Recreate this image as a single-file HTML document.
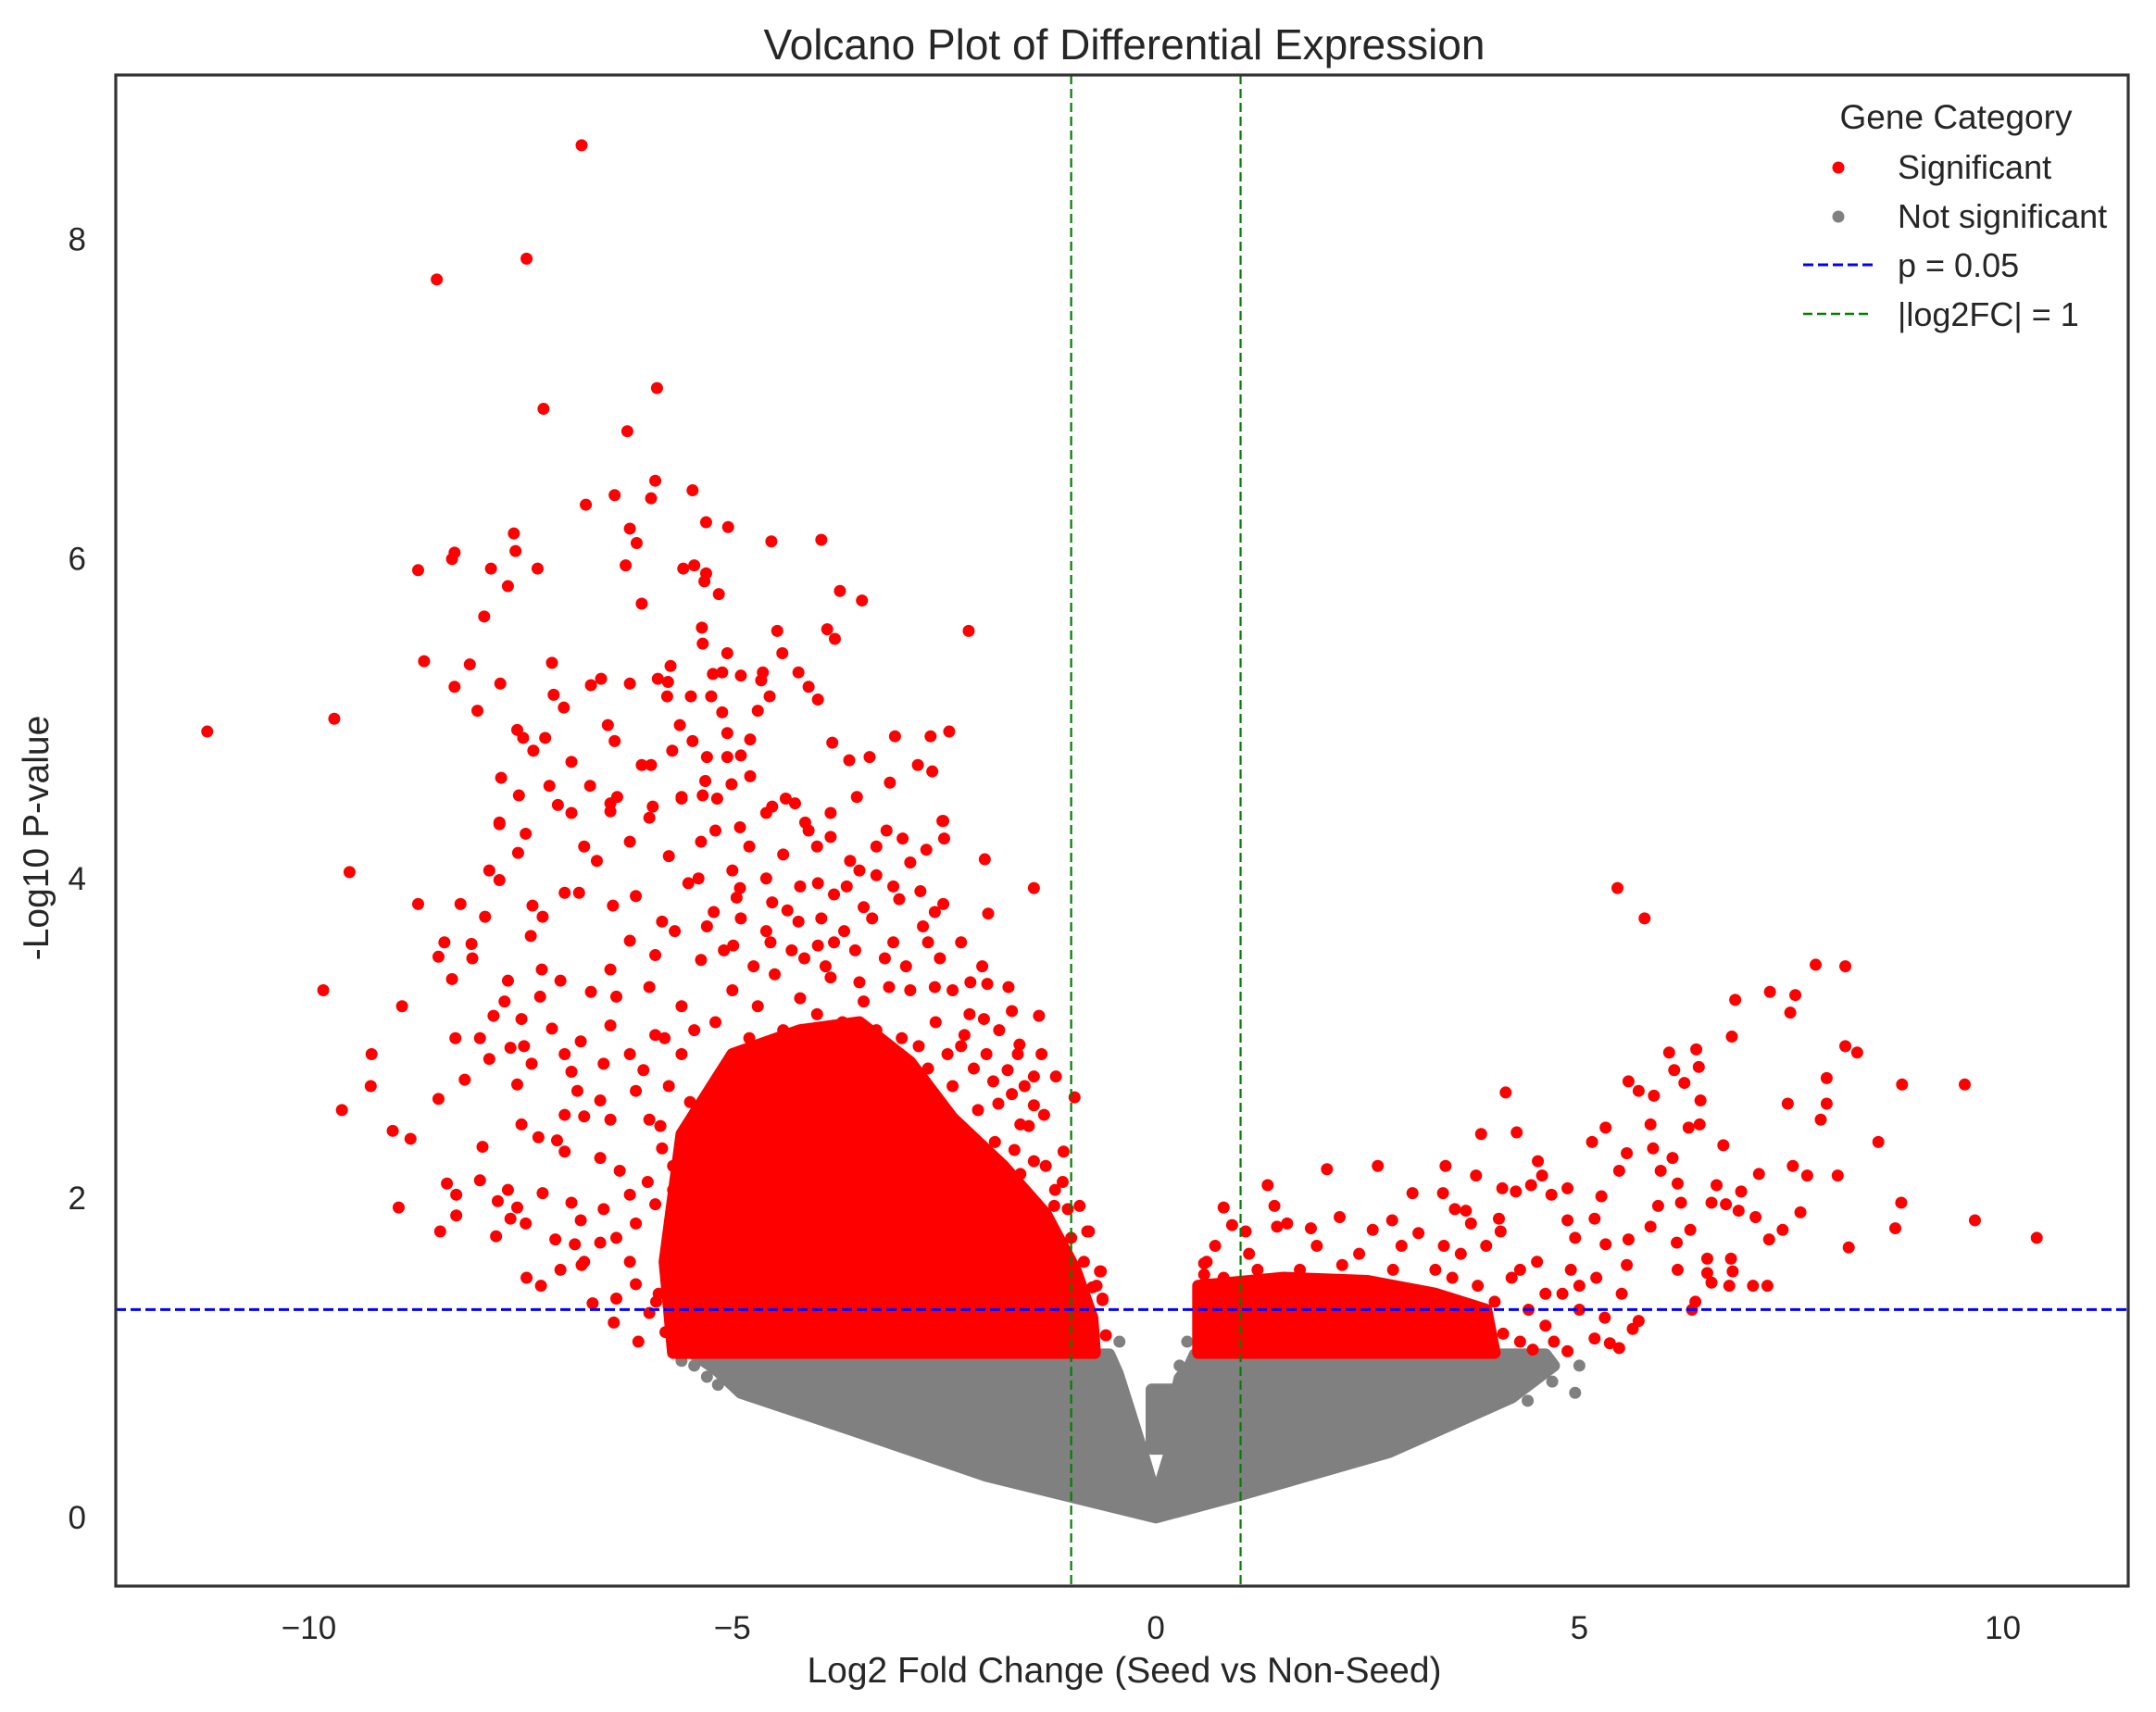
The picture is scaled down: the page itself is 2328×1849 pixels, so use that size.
<!DOCTYPE html>
<html><head><meta charset="utf-8"><title>Volcano Plot</title>
<style>
html,body{margin:0;padding:0;background:#fff;}
svg text{font-family:"Liberation Sans",Arial,sans-serif;fill:#262626;}
</style></head>
<body>
<svg id="chart" width="2328" height="1844" viewBox="0 0 2328 1844" xmlns="http://www.w3.org/2000/svg">
<rect width="2328" height="1844" fill="#fff"/>
<g id="plot"></g>
</svg>
<script>
// ---- data ----
const xTicks = [-10, -5, 0, 5, 10];
const yTicks = [0, 2, 4, 6, 8];
const xDomain = [-12.28, 11.48];
const yDomain = [-0.43, 9.03];
const pThreshold = 1.301;
const fcThresholds = [-1, 1];
// dense non-significant region outline (data units)
const nsRegionX = [-5.45,-0.55,-0.45,-0.33,-0.16,0,0.15,0.2,-0.05,-0.05,0.25,0.28,0.4,0.46,4.6,4.7,4.2,2.76,0.99,0.0,-1.0,-2.0,-3.6,-4.9,-5.2];
const nsRegionY = [1.02,1.02,0.9,0.7,0.41,0.12,0.38,0.43,0.43,0.8,0.8,0.87,0.95,1.02,1.02,0.95,0.75,0.41,0.14,0.0,0.13,0.26,0.55,0.78,0.93];
// dense significant regions
const sigLeftX = [-5.7,-5.8,-5.6,-5.0,-4.2,-3.5,-2.9,-2.4,-1.8,-1.3,-0.95,-0.75,-0.72];
const sigLeftY = [1.03,1.6,2.4,2.9,3.05,3.1,2.85,2.5,2.2,1.9,1.55,1.25,1.03];
const sigRightX = [0.5,0.5,1.5,2.5,3.3,3.9,4.0];
const sigRightY = [1.03,1.45,1.5,1.48,1.4,1.3,1.03];
const nsPoints = [[-0.43,1.1],[0.37,1.1],[0.28,0.95],[4.68,0.85],[4.39,0.73],[-5.17,0.83],[5.0,0.95],[4.95,0.78],[-5.45,0.95],[-5.6,0.98],[-5.3,0.88]];
const sigPoints = [
[-6.78,8.59],[-7.43,7.88],[-8.49,7.75],[-5.89,7.07],[-7.23,6.94],[-6.24,6.80],[-5.91,6.49],[-6.39,6.40],[-5.96,6.38],[-5.47,6.43],[-6.73,6.34],[-5.31,6.23],[-5.05,6.2],[-4.54,6.11],[-3.95,6.12],[-7.58,6.16],[-7.56,6.05],[-8.28,6.04],[-8.31,6.0],[-8.71,5.93],[-7.85,5.94],[-7.65,5.83],[-7.3,5.94],[-6.21,6.19],[-6.13,6.1],[-6.26,5.96],[-5.58,5.94],[-5.45,5.96],[-5.31,5.91],[-5.33,5.86],[-5.16,5.78],[-6.07,5.72],[-3.73,5.8],[-3.47,5.74],[-2.21,5.55],[-7.93,5.64],[-5.36,5.57],[-5.35,5.47],[-5.06,5.41],[-4.47,5.55],[-3.88,5.56],[-3.79,5.5],[-4.41,5.41],
[-11.2,4.92],[-9.7,5.0],[-8.64,5.36],[-8.1,5.34],[-7.13,5.35],[-8.28,5.2],[-7.74,5.22],[-8.01,5.05],[-7.11,5.15],[-6.99,5.07],[-6.67,5.21],[-6.55,5.25],[-6.21,5.22],[-5.88,5.25],[-5.76,5.23],[-5.73,5.33],[-5.77,5.14],[-5.49,5.14],[-5.25,5.14],[-5.23,5.28],[-5.12,5.29],[-4.9,5.27],[-4.64,5.29],[-4.66,5.24],[-4.56,5.14],[-4.22,5.29],[-4.1,5.2],[-3.99,5.12],[-4.7,5.05],[-5.12,5.04],[-7.54,4.93],[-7.47,4.88],[-7.21,4.88],[-7.35,4.8],[-6.47,4.96],[-6.39,4.86],[-6.9,4.73],[-5.62,4.96],[-5.47,4.86],[-5.06,4.91],[-4.79,4.87],[-3.82,4.85],[-3.08,4.89],[-2.66,4.89],[-2.44,4.92],[-5.71,4.8],[-5.3,4.76],[-5.06,4.76],[-4.9,4.77],[-6.07,4.71],[-5.96,4.71],[-3.62,4.74],[-3.38,4.76],[-2.81,4.71],[-2.64,4.67],[-3.14,4.6],[-7.73,4.63],[-7.16,4.58],[-6.68,4.58],[-7.52,4.52],[-5.32,4.61],[-5.01,4.59],[-4.79,4.64],[-6.36,4.51],[-5.6,4.51],[-5.35,4.52],[-7.06,4.46],[-6.9,4.41],[-6.44,4.42],[-5.94,4.45],[-5.18,4.5],[-4.26,4.47],[-4.53,4.45],[-3.84,4.41],[-3.53,4.51],[-2.52,4.36],[-7.75,4.35],
[-9.52,4.04],[-9.83,3.3],[-9.61,2.55],[-9.27,2.7],[-9.26,2.9],[-8.9,3.2],[-9.01,2.42],[-8.8,2.37],[-8.94,1.94],[-8.71,3.84],[-8.21,3.84],[-7.92,3.76],[-8.47,3.51],[-8.4,3.6],[-8.08,3.59],[-8.07,3.5],[-8.31,3.37],[-7.65,3.36],[-7.87,4.05],[-7.75,3.99],[-7.53,4.16],[-7.44,4.28],[-7.75,4.34],[-8.27,3.0],[-7.98,3.0],[-7.87,2.87],[-8.47,2.62],[-8.16,2.74],[-7.69,3.23],[-7.49,3.12],[-7.82,3.14],[-7.62,2.94],[-7.46,2.95],[-7.54,2.71],[-7.37,2.84],[-7.49,2.46],[-7.95,2.32],[-7.98,2.11],[-8.37,2.09],[-8.26,2.02],[-8.45,1.79],[-8.26,1.89],[-7.79,1.76],[-7.77,1.98],[-7.65,2.05],[-7.62,1.87],[-7.44,1.84],[-7.54,1.94],[-7.43,1.5],[-7.26,1.45],[-7.03,1.55],[-6.78,1.58],[-6.65,1.34],[-6.4,1.22],[-6.11,1.1],[-7.29,2.38],[-7.07,2.36],[-6.98,2.29],[-7.24,2.03],[-6.9,1.97],[-7.09,1.74],[-6.86,1.71],[-6.79,1.86],[-7.36,3.83],[-7.24,3.76],[-6.98,3.91],[-6.81,3.91],[-7.38,3.64],[-7.25,3.43],[-7.03,3.36],[-7.27,3.26],[-7.13,3.06],[-6.98,2.9],[-6.79,2.98],[-6.9,2.79],[-6.83,2.67],[-6.98,2.52],[-6.75,2.51],[-6.56,2.61],[-6.44,2.49],[-6.56,2.25],[-6.33,2.17],[-6.21,2.02],[-6.52,1.93],[-6.56,1.72],[-6.37,1.75],[-6.75,1.6],[-6.21,1.6],[-6.37,1.37],[-5.98,1.28],[-5.79,1.16],[-5.87,1.4],[-6.14,1.46],
[-2.02,4.12],[-1.44,3.94],[-1.98,3.78],[-2.51,4.36],[-2.5,4.25],[-2.71,4.18],[-3.18,4.3],[-2.99,4.25],[-2.78,3.92],[-2.51,3.84],[-2.61,3.79],[-3.03,3.87],[-2.69,3.6],[-2.3,3.6],[-2.19,3.35],[-1.99,3.34],[-1.74,3.32],[-1.7,3.17],[-1.38,3.14],[-2.03,3.12],[-2.26,3.02],[-1.61,2.96],[-1.63,2.9],[-1.44,2.76],[-1.18,2.76],[-0.96,2.63],[-1.86,2.59],[-1.44,2.58],[-1.32,2.52],[-1.6,2.46],[-1.67,2.3],[-1.09,2.29],[-1.44,2.23],[-1.19,2.05],[-0.81,1.79],[-0.65,1.54],[-0.63,1.37],[-1.04,1.93],[-1.92,2.73],[-2.15,2.81],[-2.46,2.9],[-2.69,2.81],[-2.84,2.73],[-2.61,3.32],[-3.15,3.32],[-3.45,3.23],[-3.84,3.38],[-3.68,3.67],[-3.61,4.11],[-3.84,4.26],[-4.14,4.35],[-4.37,4.5],[-4.6,4.41],[-4.91,4.32],[-5.37,4.23],[-5.6,4.5],[-5.75,4.14],[-5.98,4.38],[-6.21,4.23],[-6.44,4.47],[-6.75,4.2],[-6.6,4.11],[-6.41,3.83],[-6.14,3.89],[-5.83,3.73],[-5.52,3.97],[-5.22,3.79],[-4.91,3.94],[-4.53,3.85],[-4.22,3.73],[-3.99,3.97],[-3.45,3.82],[-3.3,4.02],[-6.21,3.61],[-5.91,3.52],[-5.68,3.67],[-5.37,3.49],[-4.99,3.58],[-4.6,3.67],[-4.3,3.55],[-3.99,3.58],[-6.44,3.43],[-6.67,3.29],[-6.37,3.26],[-5.98,3.32],[-6.44,3.08],[-6.21,2.9],[-6.52,2.84],[-6.14,2.67],[-5.91,3.02],[-5.6,3.2],[-5.98,2.49],[-5.83,2.31],[-5.91,1.96],[-5.68,1.75],[-6.14,1.84],
[-5.6,2.9],[-5.5,2.6],[-5.7,2.2],[-5.6,1.9],[-5.55,1.5],[-5.65,1.2],[-5.45,3.05],[-5.2,3.1],[-5.0,3.3],[-4.8,3.0],[-4.7,3.2],[-4.5,3.4],[-4.4,3.05],[-4.2,3.25],[-4.0,3.15],[-3.9,3.45],[-3.7,3.1],[-3.5,3.35],[-3.3,3.05],[-3.2,3.5],[-3.0,3.0],[-2.9,3.3],[-2.8,2.95],[-2.6,3.1],[-2.4,2.7],[-2.3,2.95],[-2.1,2.55],[-2.0,2.9],[-1.9,2.35],[-1.7,2.65],[-1.6,2.15],[-1.5,2.45],[-1.3,2.2],[-1.2,1.95],[-1.1,2.1],[-1.0,1.75],[-0.9,1.95],[-0.85,1.6],[-0.7,1.45],[-0.8,1.2],
[-5.3,3.7],[-5.1,3.55],[-4.9,3.75],[-4.75,3.45],[-4.55,3.6],[-4.35,3.8],[-4.15,3.5],[-3.95,3.75],[-3.8,3.6],[-3.55,3.55],[-3.35,3.75],[-3.1,3.6],[-2.95,3.45],[-2.75,3.7],[-2.55,3.5],[-2.4,3.3],[-2.2,3.15],[-2.05,3.45],[-1.85,3.05],[-1.75,2.8],[-1.55,2.7],[-1.35,2.9],[-5.8,3.0],[-5.75,2.7],[-5.85,2.45],[-5.7,2.05],[-5.75,1.6],[-5.9,1.35],[-6.0,2.1],[-6.05,2.8],
[-5.0,4.05],[-4.8,4.2],[-4.6,4.0],[-4.4,4.15],[-4.2,3.95],[-4.0,4.2],[-3.8,3.9],[-3.5,4.05],[-3.3,4.2],[-3.1,3.95],[-2.9,4.1],[-5.4,4.0],[-5.2,4.3],[-4.95,3.88],[-4.1,4.3],[-3.65,3.95],
[-0.79,1.79],[-0.66,1.54],[-0.63,1.36],[-0.75,1.44],[-0.59,1.14],[0.57,1.59],[0.57,1.52],
[5.45,3.94],[5.77,3.75],[7.79,3.46],[8.14,3.45],[7.25,3.29],[7.55,3.27],[7.49,3.16],[6.84,3.24],[6.8,3.01],[6.06,2.91],[6.38,2.93],[6.41,2.82],[6.12,2.8],[6.24,2.72],[8.14,2.95],[8.28,2.91],[7.92,2.75],[8.81,2.71],[9.55,2.71],[5.58,2.73],[5.7,2.67],[5.88,2.64],[6.43,2.61],[7.46,2.59],[7.92,2.59],[7.85,2.49],[4.13,2.66],[3.84,2.4],[4.26,2.41],[5.31,2.44],[5.84,2.46],[6.29,2.44],[6.42,2.46],[5.15,2.35],[6.7,2.33],[8.53,2.35],[5.56,2.28],[5.87,2.31],[6.1,2.25],[4.51,2.23],[2.02,2.18],[2.62,2.2],[3.42,2.2],[3.78,2.14],[5.47,2.17],[5.96,2.17],[7.12,2.15],[7.52,2.2],[7.69,2.14],[8.05,2.14],[4.56,2.14],[3.03,2.03],[3.39,2.03],[4.09,2.06],[4.25,2.04],[4.43,2.08],[4.67,2.02],[4.86,2.06],[5.26,2.01],[5.93,1.95],[6.16,2.09],[6.2,1.97],[6.56,1.97],[6.73,1.96],[6.91,2.04],[6.88,1.92],[8.8,1.97],[7.61,1.91],[7.08,1.88],[9.67,1.86],[8.73,1.81],[7.4,1.8],[10.4,1.75],[8.18,1.69],[7.24,1.74],[6.31,1.8],[5.84,1.82],[6.15,1.72],[6.62,2.08],[1.32,2.08],[0.8,1.94],[1.4,1.95],[2.17,1.88],[2.79,1.86],[3.53,1.93],[3.66,1.92],[4.05,1.87],[4.86,1.86],[5.18,1.87],[1.83,1.81],[3.1,1.78],[2.56,1.8],[3.72,1.84],[4.07,1.79],[0.9,1.83],[1.43,1.82],[1.55,1.84],[1.06,1.79],[4.95,1.75],[5.31,1.71],[5.58,1.74],[6.51,1.62],[6.79,1.62],[6.81,1.54],[6.51,1.53],[6.56,1.47],[6.77,1.45],[7.05,1.45],[7.22,1.45],[6.37,1.35],[6.33,1.3],[6.16,1.55],[5.56,1.58],[5.7,1.23],[5.47,1.06],[4.86,1.04],[5.18,1.12],[5.36,1.09],[5.63,1.18],
[4.2,1.5],[4.4,1.3],[4.6,1.2],[4.8,1.4],[5.0,1.3],[5.2,1.5],[4.5,1.6],[4.1,1.15],[4.9,1.55],[5.3,1.25],[5.5,1.4],[4.3,1.1],[3.6,1.65],[3.9,1.7],[3.4,1.7],[2.9,1.7],[2.4,1.65],[1.9,1.7],[1.1,1.65],[0.6,1.6],[0.7,1.7],[4.7,1.1],[5.0,1.45],
[3.6,1.3],[3.7,1.1],[3.8,1.45],[3.9,1.2],[4.0,1.35],[3.3,1.55],[2.8,1.55],[2.2,1.58],[1.7,1.55],[1.2,1.55],[0.8,1.5],[3.5,1.5],[4.3,1.55],[4.6,1.4],[4.45,1.05]
];
// ---- layout ----
const L = 125, R = 2298, T = 81, B = 1713;
const NS = 'http://www.w3.org/2000/svg';
const xs = v => L + (v - xDomain[0]) / (xDomain[1] - xDomain[0]) * (R - L);
const ys = v => B - (v - yDomain[0]) / (yDomain[1] - yDomain[0]) * (B - T);
const plot = document.getElementById('plot');
function mk(tag, attrs, parent) {
  const e = document.createElementNS(NS, tag);
  for (const k in attrs) e.setAttribute(k, attrs[k]);
  (parent || plot).appendChild(e);
  return e;
}
const R0 = 6.5;
const defs = mk('defs', {});
const cp = mk('clipPath', {id: 'clip'}, defs);
mk('rect', {x: L, y: T, width: R - L, height: B - T}, cp);
const marks = mk('g', {'clip-path': 'url(#clip)'});


function region(xa, ya, color, name) {
  const pts = xa.map((x, i) => xs(x) + ',' + ys(ya[i])).join(' ');
  const p = mk('polygon', {points: pts, fill: color, stroke: color, 'stroke-width': 2 * R0, 'stroke-linejoin': 'round'}, marks);
  
  
}
region(nsRegionX, nsRegionY, '#808080', 'not-significant-dense-region');
nsPoints.forEach(d => {
  const c = mk('circle', {cx: xs(d[0]), cy: ys(d[1]), r: R0, fill: '#808080'}, marks);
  
  
});
region(sigLeftX, sigLeftY, '#ff0000', 'significant-dense-region-left');
region(sigRightX, sigRightY, '#ff0000', 'significant-dense-region-right');
sigPoints.forEach(d => {
  const c = mk('circle', {cx: xs(d[0]), cy: ys(d[1]), r: R0, fill: '#ff0000'}, marks);
  
  
});
const hl = mk('line', {x1: L, x2: R, y1: ys(pThreshold), y2: ys(pThreshold), stroke: '#0000ff', 'stroke-width': 3, 'stroke-dasharray': '11,5'});


fcThresholds.forEach(v => {
  const l = mk('line', {x1: xs(v), x2: xs(v), y1: T, y2: B, stroke: '#008000', 'stroke-width': 2.2, 'stroke-dasharray': '10,5'});
  
  
});
const fr = mk('rect', {x: L, y: T, width: R - L, height: B - T, fill: 'none', stroke: '#333', 'stroke-width': 3.2});


xTicks.forEach(v => {
  const t = mk('text', {x: xs(v), y: 1770, 'font-size': 35, 'text-anchor': 'middle'});
  t.textContent = v < 0 ? '\u2212' + Math.abs(v) : String(v);
  
  
});
yTicks.forEach(v => {
  const t = mk('text', {x: 93, y: ys(v) + 12, 'font-size': 35, 'text-anchor': 'end'});
  t.textContent = String(v);
  
  
});
</script>
<svg style="position:absolute;left:0;top:0" width="2328" height="1844">
<text x="1214" y="64" font-size="46" text-anchor="middle" style="font-family:'Liberation Sans',sans-serif;fill:#262626">Volcano Plot of Differential Expression</text>
<text x="1214" y="1817" font-size="39" text-anchor="middle" style="font-family:'Liberation Sans',sans-serif;fill:#262626">Log2 Fold Change (Seed vs Non-Seed)</text>
<text x="0" y="0" font-size="39" text-anchor="middle" transform="translate(52,905) rotate(-90)" style="font-family:'Liberation Sans',sans-serif;fill:#262626">-Log10 P-value</text>
<g style="font-family:'Liberation Sans',sans-serif">
<text x="2112" y="139" font-size="37" text-anchor="middle" fill="#262626">Gene Category</text>
<circle cx="1985" cy="181" r="6.5" fill="#ff0000"/>
<text x="2049" y="193" font-size="36" fill="#262626">Significant</text>
<circle cx="1985" cy="234" r="6.5" fill="#808080"/>
<text x="2049" y="246" font-size="36" fill="#262626">Not significant</text>
<line x1="1947" x2="2022" y1="286" y2="286" stroke="#0000ff" stroke-width="3" stroke-dasharray="11,5"/>
<text x="2049" y="299" font-size="36" fill="#262626">p = 0.05</text>
<line x1="1947" x2="2022" y1="339" y2="339" stroke="#008000" stroke-width="2.5" stroke-dasharray="10,5"/>
<text x="2049" y="352" font-size="36" fill="#262626">|log2FC| = 1</text>
</g>
</svg>
</body></html>
